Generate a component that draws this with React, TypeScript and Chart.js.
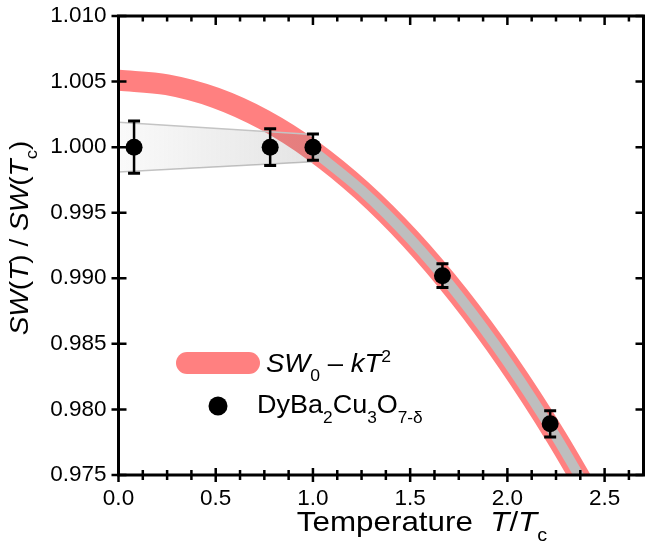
import React, { useEffect, useRef } from 'react';
import { Chart, registerables } from 'chart.js';

Chart.register(...registerables);

// ---- data ----
const tempRatio = [0.08, 0.78, 1.0, 1.666, 2.22];
const swRatio = [1.0, 1.0, 1.0, 0.9902, 0.9789];
const swError = [0.002, 0.0014, 0.001, 0.0009, 0.001];

const fitT = [0, 0.25, 0.5, 0.75, 1.0, 1.25, 1.5, 1.75, 2.0, 2.25, 2.5];
const fitSW = [1.0051, 1.00476, 1.00376, 1.00208, 0.99973, 0.99671, 0.99302, 0.98866, 0.98363, 0.97792, 0.97155];

const grayT = [1.0, 1.25, 1.5, 1.75, 2.0, 2.25, 2.5];
const graySW = [0.99973, 0.99671, 0.99302, 0.98866, 0.98363, 0.97792, 0.97155];

const wedgeT = [0, 1.0];
const wedgeUpper = [1.0019, 1.00097];
const wedgeLower = [0.9981, 0.99889];

const xTickValues = [0, 0.5, 1.0, 1.5, 2.0, 2.5];
const yTickValues = [0.975, 0.98, 0.985, 0.99, 0.995, 1.0, 1.005, 1.01];

const FONT = "'Liberation Sans', Arial, sans-serif";

type Seg = { t: string; it?: boolean; sub?: boolean; sup?: boolean };

function segFont(s: Seg, size: number, small: number) {
  return `${s.it ? 'italic ' : ''}${s.sub || s.sup ? small : size}px ${FONT}`;
}

function drawRich(
  ctx: CanvasRenderingContext2D,
  segs: Seg[],
  x: number,
  y: number,
  size: number,
  small: number,
  sx: number,
  align: 'left' | 'center',
  subOff: number,
  supOff: number
) {
  ctx.save();
  ctx.translate(x, y);
  ctx.scale(sx, 1);
  ctx.textBaseline = 'alphabetic';
  ctx.textAlign = 'left';
  ctx.fillStyle = '#000';
  let w = 0;
  for (const s of segs) {
    ctx.font = segFont(s, size, small);
    w += ctx.measureText(s.t).width;
  }
  let cx = align === 'center' ? -w / 2 : 0;
  for (const s of segs) {
    ctx.font = segFont(s, size, small);
    const dy = s.sub ? subOff : s.sup ? -supOff : 0;
    ctx.fillText(s.t, cx, dy);
    cx += ctx.measureText(s.t).width;
  }
  ctx.restore();
}

const errorBarPlugin = {
  id: 'errorBars',
  afterDatasetsDraw(chart: any) {
    const { ctx, scales } = chart;
    const xs = scales.x;
    const ys = scales.y;
    ctx.save();
    ctx.strokeStyle = '#000';
    for (let i = 0; i < tempRatio.length; i++) {
      const px = xs.getPixelForValue(tempRatio[i]);
      const pTop = ys.getPixelForValue(swRatio[i] + swError[i]);
      const pBot = ys.getPixelForValue(swRatio[i] - swError[i]);
      ctx.lineWidth = 2.5;
      ctx.beginPath();
      ctx.moveTo(px, pTop);
      ctx.lineTo(px, pBot);
      ctx.stroke();
      ctx.lineWidth = 3;
      ctx.beginPath();
      ctx.moveTo(px - 6, pTop);
      ctx.lineTo(px + 6, pTop);
      ctx.moveTo(px - 6, pBot);
      ctx.lineTo(px + 6, pBot);
      ctx.stroke();
    }
    ctx.restore();
  },
};

const framePlugin = {
  id: 'frame',
  afterDraw(chart: any) {
    const { ctx, chartArea: a, scales } = chart;
    const xs = scales.x;
    const ys = scales.y;
    ctx.save();
    ctx.strokeStyle = '#000';
    ctx.lineJoin = 'miter';
    ctx.lineWidth = 3;
    ctx.beginPath();
    ctx.rect(a.left, a.top, a.right - a.left, a.bottom - a.top);
    ctx.stroke();

    ctx.lineWidth = 2.5;
    ctx.beginPath();
    const step = 0.5 / 4;
    for (let v = xs.min; v <= xs.max + 1e-9; v += step) {
      const px = xs.getPixelForValue(v);
      const major = Math.abs(v / 0.5 - Math.round(v / 0.5)) < 1e-6;
      if (major) {
        ctx.moveTo(px, a.bottom - 7);
        ctx.lineTo(px, a.bottom + 7);
        ctx.moveTo(px, a.top);
        ctx.lineTo(px, a.top + 9);
      } else {
        ctx.moveTo(px, a.bottom - 5);
        ctx.lineTo(px, a.bottom + 5);
        ctx.moveTo(px, a.top);
        ctx.lineTo(px, a.top + 5.5);
      }
    }
    for (const v of yTickValues) {
      const py = ys.getPixelForValue(v);
      ctx.moveTo(a.left - 7, py);
      ctx.lineTo(a.left + 8, py);
      ctx.moveTo(a.right - 8, py);
      ctx.lineTo(a.right, py);
    }
    ctx.stroke();

    // axis titles
    drawRich(
      ctx,
      [{ t: 'Temperature  ' }, { t: 'T', it: true }, { t: '/' }, { t: 'T', it: true }, { t: 'c', sub: true }],
      422,
      531,
      28.5,
      18,
      1.1,
      'center',
      10,
      10
    );
    ctx.save();
    ctx.translate(28, 238);
    ctx.rotate(-Math.PI / 2);
    drawRich(
      ctx,
      [
        { t: 'SW', it: true },
        { t: '(' },
        { t: 'T', it: true },
        { t: ') / ' },
        { t: 'SW', it: true },
        { t: '(' },
        { t: 'T', it: true },
        { t: 'c', sub: true },
        { t: ')' },
      ],
      0,
      0,
      25.5,
      17,
      1.1,
      'center',
      9,
      10
    );
    ctx.restore();

    // legend
    ctx.fillStyle = '#FF8080';
    ctx.beginPath();
    (ctx as any).roundRect(176, 352, 84, 22, 11);
    ctx.fill();
    drawRich(
      ctx,
      [{ t: 'SW', it: true }, { t: '0', sub: true }, { t: ' \u2013 ' }, { t: 'kT', it: true }, { t: '2', sup: true }],
      266,
      372,
      25,
      16,
      1.1,
      'left',
      9,
      10
    );
    ctx.fillStyle = '#000';
    ctx.beginPath();
    ctx.arc(218, 406, 9.5, 0, Math.PI * 2);
    ctx.fill();
    drawRich(
      ctx,
      [
        { t: 'DyBa' },
        { t: '2', sub: true },
        { t: 'Cu' },
        { t: '3', sub: true },
        { t: 'O' },
        { t: '7-\u03b4', sub: true },
      ],
      257,
      412.5,
      25,
      16,
      1.08,
      'left',
      10,
      10
    );
    ctx.restore();
  },
};

export default function App() {
  const canvasRef = useRef<HTMLCanvasElement | null>(null);

  useEffect(() => {
    const canvas = canvasRef.current;
    if (!canvas) return;

    const chart = new Chart(canvas, {
      type: 'scatter',
      data: {
        datasets: [
          {
            type: 'line',
            data: tempRatio.map((t, i) => ({ x: t, y: swRatio[i] })),
            showLine: false,
            pointRadius: 8.5,
            pointHoverRadius: 8.5,
            pointBackgroundColor: '#000',
            pointBorderWidth: 0,
            borderColor: '#000',
            order: 1,
          } as any,
          {
            type: 'line',
            data: grayT.map((t, i) => ({ x: t, y: graySW[i] })),
            borderColor: '#BEBEBE',
            borderWidth: 10,
            pointRadius: 0,
            cubicInterpolationMode: 'monotone',
            fill: false,
            clip: 0,
            order: 2,
          } as any,
          {
            type: 'line',
            data: wedgeT.map((t, i) => ({ x: t, y: wedgeUpper[i] })),
            borderColor: '#C4C4C4',
            borderWidth: 1.5,
            pointRadius: 0,
            fill: '+1',
            backgroundColor: (c: any) => {
              const area = c.chart.chartArea;
              if (!area) return 'rgba(128,128,128,0.1)';
              const xs = c.chart.scales.x;
              const g = c.chart.ctx.createLinearGradient(xs.getPixelForValue(0), 0, xs.getPixelForValue(1), 0);
              g.addColorStop(0, 'rgba(120,120,120,0.04)');
              g.addColorStop(1, 'rgba(120,120,120,0.2)');
              return g;
            },
            clip: 0,
            order: 3,
          } as any,
          {
            type: 'line',
            data: wedgeT.map((t, i) => ({ x: t, y: wedgeLower[i] })),
            borderColor: '#C4C4C4',
            borderWidth: 1.5,
            pointRadius: 0,
            fill: false,
            clip: 0,
            order: 3,
          } as any,
          {
            type: 'line',
            data: fitT.map((t, i) => ({ x: t, y: fitSW[i] })),
            borderColor: '#FF8080',
            borderWidth: 21,
            pointRadius: 0,
            cubicInterpolationMode: 'monotone',
            fill: false,
            clip: 0,
            order: 4,
          } as any,
        ],
      },
      options: {
        responsive: false,
        maintainAspectRatio: false,
        animation: false,
        devicePixelRatio: 1,
        layout: { padding: { left: 0, right: 2.7, top: 16, bottom: 0 } },
        plugins: {
          legend: { display: false },
          tooltip: { enabled: false },
        },
        events: [],
        scales: {
          x: {
            type: 'linear',
            min: 0,
            max: 2.7,
            grid: { display: false, drawTicks: false },
            border: { display: false },
            afterBuildTicks: (s: any) => {
              s.ticks = xTickValues.map((v) => ({ value: v }));
            },
            afterFit: (s: any) => {
              s.height = 78;
              s.paddingLeft = 0;
              s.paddingRight = 0;
              s.paddingTop = 0;
              s.paddingBottom = 0;
            },
            ticks: {
              padding: 10,
              color: '#000',
              maxRotation: 0,
              autoSkip: false,
              font: { family: FONT, size: 22.5 },
              callback: (v: any) => Number(v).toFixed(1),
            },
          },
          y: {
            type: 'linear',
            min: 0.975,
            max: 1.01,
            grid: { display: false, drawTicks: false },
            border: { display: false },
            afterBuildTicks: (s: any) => {
              s.ticks = yTickValues.map((v) => ({ value: v }));
            },
            afterFit: (s: any) => {
              s.width = 118.5;
              s.paddingLeft = 0;
              s.paddingRight = 0;
              s.paddingTop = 0;
              s.paddingBottom = 0;
            },
            ticks: {
              padding: 12,
              color: '#000',
              autoSkip: false,
              font: { family: FONT, size: 22.5 },
              callback: (v: any) => Number(v).toFixed(3),
            },
          },
        },
      } as any,
      plugins: [errorBarPlugin, framePlugin],
    });

    return () => chart.destroy();
  }, []);

  return (
    <div
      style={{
        position: 'fixed',
        left: 0,
        top: 0,
        width: 646,
        height: 553,
        overflow: 'hidden',
        background: '#fff',
      }}
    >
      <canvas ref={canvasRef} width={652} height={553} style={{ width: 652, height: 553, display: 'block' }} />
    </div>
  );
}
